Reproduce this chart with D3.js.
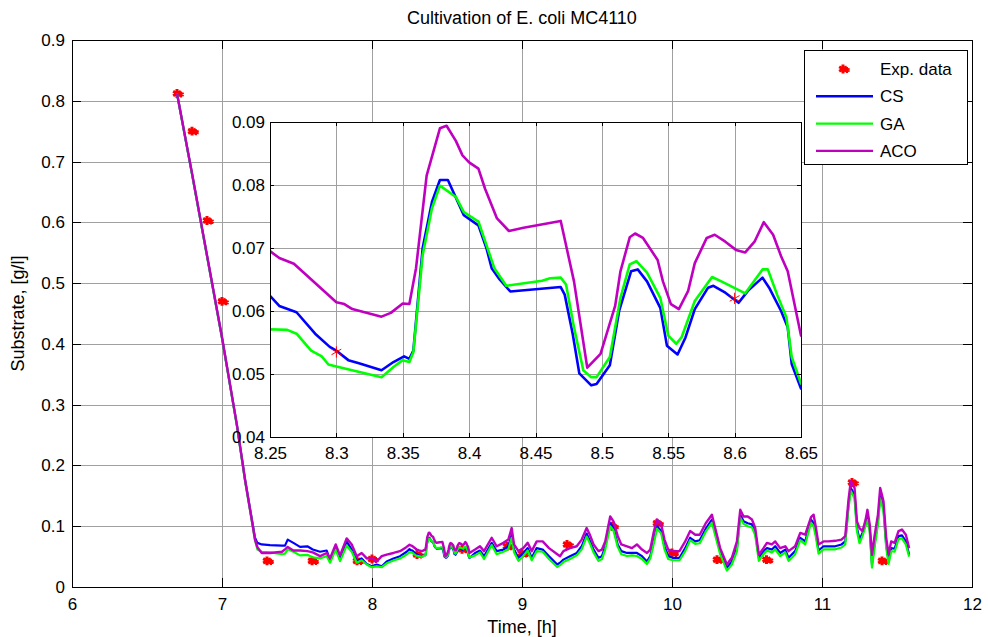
<!DOCTYPE html>
<html lang="en">
<head>
<meta charset="UTF-8">
<title>Cultivation of E. coli MC4110</title>
<script src="https://d3js.org/d3.v7.min.js"></script>
<style>
    body {
        margin: 0;
        background: #fff;
        font-family: Arial, "Liberation Sans", sans-serif;
    }
    .grid line { stroke: #a0a0a0; stroke-width: 1; shape-rendering: crispEdges; }
    .axis path, .axis line { stroke: #000; shape-rendering: crispEdges; }
    .axis text { font-family: Arial, "Liberation Sans", sans-serif; fill: #000; }
    .series { fill: none; stroke-linejoin: round; }
</style>
</head>
<body>
<div id="chart"></div>
<script>
    // tick labels
    const xTicks = [6, 7, 8, 9, 10, 11, 12];
    const yTicks = [0, 0.1, 0.2, 0.3, 0.4, 0.5, 0.6, 0.7, 0.8, 0.9];
    const insetXTicks = [8.25, 8.3, 8.35, 8.4, 8.45, 8.5, 8.55, 8.6, 8.65];
    const insetYTicks = [0.04, 0.05, 0.06, 0.07, 0.08, 0.09];

    // experimental data
    const expT = [6.7, 6.8, 6.9, 7.0, 7.3, 7.6, 7.9, 8.0, 8.3, 8.6, 8.9, 9.0, 9.3, 9.6, 9.9, 10.0, 10.3, 10.63, 11.2, 11.4];
    const expV = [0.812, 0.750, 0.603, 0.470, 0.043, 0.043, 0.043, 0.046, 0.0535, 0.062, 0.067, 0.055, 0.070, 0.100, 0.105, 0.056, 0.045, 0.045, 0.172, 0.043];

    // model CS  [time, substrate]
    const cs = [
        [6.70, .812], [6.80, .680], [6.90, .545], [7.00, .410], [7.10, .265], [7.154, .176], [7.20, .110], [7.22, .081],
        [7.236, .0726], [7.265, .070], [7.32, .069], [7.40, .068], [7.42, .068], [7.438, .078], [7.476, .0726], [7.52, .066],
        [7.569, .067], [7.605, .0616], [7.654, .058], [7.698, .060], [7.72, .045], [7.758, .066], [7.787, .045], [7.831, .075],
        [7.865, .0616], [7.898, .042], [7.931, .047], [7.965, .038], [7.998, .034], [8.031, .037], [8.065, .034], [8.098, .042],
        [8.143, .047], [8.187, .0507], [8.231, .058],
        [8.25, .0624], [8.257, .0608], [8.27, .0598], [8.284, .0564], [8.295, .0543], [8.30, .0537], [8.309, .0522], [8.317, .0517],
        [8.334, .0506], [8.343, .0519], [8.351, .0528], [8.355, .0524], [8.358, .0537], [8.365, .0700], [8.372, .0773], [8.378, .0808],
        [8.384, .0808], [8.396, .0752], [8.407, .0736], [8.413, .0700], [8.417, .0668], [8.423, .0650], [8.431, .0631], [8.469, .0638],
        [8.472, .0626], [8.478, .0564], [8.483, .0501], [8.492, .0482], [8.496, .0484], [8.506, .0514], [8.513, .0600], [8.522, .0663],
        [8.527, .0666], [8.534, .0647], [8.544, .0605], [8.549, .0545], [8.557, .0531], [8.563, .0558], [8.570, .0603], [8.580, .0637],
        [8.584, .0640], [8.593, .0629], [8.603, .0613], [8.610, .0632], [8.621, .0653], [8.626, .0637], [8.635, .0600], [8.640, .0574],
        [8.643, .0516], [8.650, .0477],
        [8.687, .056], [8.72, .060], [8.747, .0507], [8.798, .0726], [8.831, .059], [8.876, .0616], [8.909, .067], [8.931, .086],
        [8.947, .0616], [8.976, .048], [9.009, .056], [9.038, .064], [9.065, .048], [9.098, .064], [9.138, .0616], [9.18, .0507],
        [9.235, .037], [9.254, .040], [9.276, .045], [9.32, .0507], [9.365, .056], [9.398, .067], [9.431, .088], [9.454, .075],
        [9.477, .0616], [9.51, .048], [9.533, .0507], [9.555, .067], [9.588, .105], [9.61, .097], [9.638, .070], [9.662, .059],
        [9.70, .056], [9.733, .056], [9.766, .056], [9.80, .0507], [9.833, .042], [9.855, .0507], [9.877, .075], [9.90, .100],
        [9.928, .092], [9.95, .067], [9.975, .0507], [10.005, .048], [10.05, .048], [10.088, .064], [10.121, .081], [10.155, .075],
        [10.185, .077], [10.225, .096], [10.266, .111], [10.288, .089], [10.321, .059], [10.366, .0315], [10.399, .042], [10.433, .064],
        [10.455, .119], [10.477, .108], [10.505, .105], [10.533, .103], [10.555, .089], [10.579, .048], [10.61, .059], [10.633, .064],
        [10.666, .0616], [10.688, .067], [10.721, .056], [10.755, .0616], [10.777, .048], [10.821, .059], [10.855, .081], [10.888, .075],
        [10.927, .111], [10.944, .105], [10.958, .089], [10.977, .060], [11.01, .067], [11.044, .067], [11.088, .067], [11.13, .070],
        [11.155, .075], [11.177, .136], [11.192, .163], [11.217, .152], [11.233, .097], [11.25, .078], [11.27, .089], [11.29, .105],
        [11.303, .116], [11.318, .097], [11.333, .037], [11.35, .070], [11.373, .108], [11.388, .152], [11.41, .130], [11.428, .070],
        [11.444, .0425], [11.461, .064], [11.484, .063], [11.51, .0836], [11.533, .085], [11.559, .075], [11.581, .053]
    ];

    // model GA
    const ga = [
        [6.70, .812], [6.80, .679], [6.90, .544], [7.00, .409], [7.10, .264], [7.154, .174], [7.20, .107], [7.22, .077],
        [7.236, .0616], [7.265, .058], [7.32, .057], [7.40, .054], [7.42, .055], [7.438, .062], [7.476, .058], [7.52, .052],
        [7.569, .053], [7.605, .049], [7.654, .047], [7.698, .051], [7.72, .040], [7.758, .0616], [7.787, .0425], [7.831, .068],
        [7.865, .058], [7.898, .040], [7.931, .044], [7.965, .037], [7.998, .0326], [8.031, .034], [8.065, .0326], [8.098, .039],
        [8.143, .0436], [8.187, .047], [8.231, .0535],
        [8.25, .0571], [8.263, .0570], [8.27, .0564], [8.281, .0537], [8.289, .0528], [8.294, .0515], [8.30, .0512], [8.334, .0495],
        [8.343, .0511], [8.35, .0522], [8.355, .0519], [8.358, .0535], [8.365, .0689], [8.372, .0763], [8.378, .0799], [8.39, .0781],
        [8.396, .0757], [8.407, .0742], [8.413, .0705], [8.419, .0668], [8.428, .0640], [8.455, .0648], [8.461, .0652], [8.469, .0653],
        [8.473, .0642], [8.479, .0574], [8.486, .0506], [8.492, .0495], [8.496, .0495], [8.506, .0527], [8.514, .0621], [8.521, .0674],
        [8.526, .0679], [8.534, .0661], [8.544, .0621], [8.55, .0561], [8.556, .0548], [8.56, .0558], [8.57, .0616], [8.583, .0654],
        [8.59, .0647], [8.608, .0628], [8.621, .0666], [8.625, .0666], [8.632, .0626], [8.639, .0590], [8.643, .0527], [8.65, .0485],
        [8.687, .052], [8.72, .057], [8.747, .046], [8.798, .069], [8.831, .054], [8.876, .058], [8.909, .062], [8.931, .081],
        [8.947, .057], [8.976, .043], [9.009, .051], [9.038, .060], [9.065, .044], [9.098, .059], [9.138, .058], [9.18, .046],
        [9.235, .033], [9.254, .036], [9.276, .041], [9.32, .046], [9.365, .052], [9.398, .062], [9.431, .083], [9.454, .071],
        [9.477, .057], [9.51, .043], [9.533, .046], [9.555, .062], [9.588, .100], [9.61, .093], [9.638, .066], [9.662, .054],
        [9.70, .051], [9.733, .052], [9.766, .051], [9.80, .046], [9.833, .038], [9.855, .047], [9.877, .070], [9.90, .096],
        [9.928, .088], [9.95, .062], [9.975, .046], [10.005, .044], [10.05, .044], [10.088, .059], [10.121, .077], [10.155, .071],
        [10.185, .072], [10.225, .091], [10.266, .106], [10.288, .085], [10.321, .054], [10.366, .027], [10.399, .037], [10.433, .059],
        [10.455, .114], [10.477, .104], [10.505, .100], [10.533, .098], [10.555, .085], [10.579, .043], [10.61, .054], [10.633, .060],
        [10.666, .057], [10.688, .062], [10.721, .051], [10.755, .057], [10.777, .043], [10.821, .054], [10.855, .077], [10.888, .070],
        [10.927, .106], [10.944, .100], [10.958, .084], [10.977, .055], [11.01, .062], [11.044, .062], [11.088, .062], [11.13, .065],
        [11.155, .070], [11.177, .130], [11.192, .158], [11.217, .146], [11.233, .092], [11.25, .072], [11.27, .084], [11.29, .100],
        [11.303, .110], [11.318, .092], [11.333, .032], [11.35, .065], [11.373, .103], [11.388, .146], [11.41, .125], [11.428, .065],
        [11.444, .038], [11.461, .059], [11.484, .058], [11.51, .079], [11.533, .080], [11.559, .070], [11.581, .050]
    ];

    // model ACO
    const aco = [
        [6.70, .812], [6.80, .681], [6.90, .546], [7.00, .411], [7.10, .266], [7.154, .176], [7.20, .108], [7.22, .078],
        [7.236, .0655], [7.265, .056], [7.32, .056], [7.40, .058], [7.42, .062], [7.438, .066], [7.476, .060], [7.52, .060],
        [7.569, .059], [7.605, .057], [7.654, .0507], [7.698, .056], [7.72, .047], [7.758, .070], [7.787, .052], [7.831, .080],
        [7.865, .070], [7.898, .0507], [7.931, .056], [7.965, .047], [7.998, .048], [8.031, .042], [8.065, .0507], [8.098, .0534],
        [8.143, .056], [8.187, .059], [8.231, .066],
        [8.25, .0695], [8.257, .0684], [8.268, .0675], [8.30, .0614], [8.306, .0611], [8.312, .0603], [8.334, .0591], [8.341, .0597],
        [8.35, .0612], [8.355, .0611], [8.36, .0668], [8.368, .0815], [8.378, .0890], [8.383, .0894], [8.39, .0870], [8.395, .0847],
        [8.40, .0836], [8.407, .0826], [8.412, .0794], [8.421, .0747], [8.43, .0727], [8.441, .0732], [8.469, .0743], [8.479, .0647],
        [8.489, .0510], [8.499, .0532], [8.51, .0608], [8.514, .0663], [8.521, .0717], [8.525, .0723], [8.531, .0716], [8.542, .0681],
        [8.546, .0647], [8.552, .0611], [8.558, .0603], [8.565, .0632], [8.57, .0676], [8.579, .0716], [8.585, .0721], [8.593, .0710],
        [8.601, .0697], [8.608, .0693], [8.615, .0710], [8.622, .0741], [8.629, .0721], [8.635, .0687], [8.64, .0663], [8.65, .0561],
        [8.687, .0616], [8.72, .067], [8.747, .059], [8.798, .081], [8.831, .067], [8.876, .0726], [8.909, .078], [8.931, .097],
        [8.947, .070], [8.976, .059], [9.009, .064], [9.038, .0726], [9.065, .059], [9.098, .075], [9.138, .075], [9.18, .064],
        [9.235, .054], [9.254, .0507], [9.276, .059], [9.32, .064], [9.365, .067], [9.398, .078], [9.431, .097], [9.454, .085],
        [9.477, .070], [9.51, .059], [9.533, .0616], [9.555, .075], [9.588, .116], [9.61, .108], [9.638, .084], [9.662, .070],
        [9.70, .067], [9.733, .064], [9.766, .070], [9.80, .0616], [9.833, .056], [9.855, .0616], [9.877, .089], [9.90, .111],
        [9.928, .1027], [9.95, .078], [9.975, .0616], [10.005, .059], [10.05, .059], [10.088, .075], [10.121, .092], [10.155, .086],
        [10.185, .086], [10.225, .105], [10.266, .119], [10.288, .097], [10.321, .064], [10.366, .037], [10.399, .048], [10.433, .075],
        [10.455, .127], [10.477, .116], [10.505, .116], [10.533, .111], [10.555, .097], [10.579, .053], [10.61, .064], [10.633, .0726],
        [10.666, .070], [10.688, .075], [10.721, .064], [10.755, .067], [10.777, .059], [10.821, .067], [10.855, .089], [10.888, .086],
        [10.927, .115], [10.944, .119], [10.958, .100], [10.977, .070], [11.01, .075], [11.044, .075], [11.088, .076], [11.13, .078],
        [11.155, .0836], [11.177, .144], [11.192, .174], [11.217, .163], [11.233, .108], [11.25, .097], [11.27, .092], [11.29, .110],
        [11.303, .127], [11.318, .103], [11.333, .053], [11.35, .0836], [11.373, .119], [11.388, .163], [11.41, .141], [11.428, .081],
        [11.444, .053], [11.461, .075], [11.484, .0726], [11.51, .092], [11.533, .0945], [11.559, .086], [11.581, .064]
    ];

    const seriesNames = ["CS", "GA", "ACO"];
    const seriesColors = ["#0000ff", "#00ff00", "#bf00bf"];
    const seriesData = [cs, ga, aco];

    const W = 988, H = 637;
    const svg = d3.select("#chart").append("svg")
        .attr("width", W)
        .attr("height", H);

    // main axes area
    const main = { left: 72, right: 972, top: 40, bottom: 587 };
    const x = d3.scaleLinear().domain([6, 12]).range([main.left, main.right]);
    const y = d3.scaleLinear().domain([0, 0.9]).range([main.bottom, main.top]);

    // inset axes area
    const ins = { left: 270, right: 801, top: 122, bottom: 437 };
    const xi = d3.scaleLinear().domain([8.25, 8.65]).range([ins.left, ins.right]);
    const yi = d3.scaleLinear().domain([0.04, 0.09]).range([ins.bottom, ins.top]);

    const expPts = expT.map((t, i) => [t, expV[i]]);
    const starType = d3.symbolAsterisk || d3.symbolCross;

    function drawGrid(g, box, sx, sy, xt, yt) {
        g.append("g").attr("class", "grid")
            .attr("transform", `translate(0,${box.bottom})`)
            .call(d3.axisBottom(sx).tickValues(xt).tickSize(-(box.bottom - box.top)).tickFormat(""))
            .call(s => s.select(".domain").remove());
        g.append("g").attr("class", "grid")
            .attr("transform", `translate(${box.left},0)`)
            .call(d3.axisLeft(sy).tickValues(yt).tickSize(-(box.right - box.left)).tickFormat(""))
            .call(s => s.select(".domain").remove());
    }

    function drawFrame(g, box, sx, sy, xt, yt, xfmt, yfmt, tickLen, fontSize, xPad, yPad, lw) {
        g.append("g").attr("class", "axis")
            .attr("transform", `translate(0,${box.bottom})`)
            .call(d3.axisBottom(sx).tickValues(xt).tickSizeInner(-tickLen).tickSizeOuter(0).tickPadding(xPad).tickFormat(xfmt));
        g.append("g").attr("class", "axis")
            .attr("transform", `translate(${box.left},0)`)
            .call(d3.axisLeft(sy).tickValues(yt).tickSizeInner(-tickLen).tickSizeOuter(0).tickPadding(yPad).tickFormat(yfmt));
        g.append("g").attr("class", "axis")
            .attr("transform", `translate(0,${box.top})`)
            .call(d3.axisTop(sx).tickValues(xt).tickSizeInner(-tickLen).tickSizeOuter(0).tickFormat(""));
        g.append("g").attr("class", "axis")
            .attr("transform", `translate(${box.right},0)`)
            .call(d3.axisRight(sy).tickValues(yt).tickSizeInner(-tickLen).tickSizeOuter(0).tickFormat(""));
        g.selectAll(".axis text").attr("font-size", fontSize);
        g.selectAll(".axis .domain").attr("stroke-width", lw);
    }

    // ---------- main plot ----------
    const mainG = svg.append("g");
    drawGrid(mainG, main, x, y, xTicks, yTicks);

    svg.append("clipPath").attr("id", "clipMain")
        .append("rect")
        .attr("x", main.left).attr("y", main.top)
        .attr("width", main.right - main.left).attr("height", main.bottom - main.top);

    const mainLine = d3.line().x(d => x(d[0])).y(d => y(d[1]));
    const mainData = mainG.append("g").attr("clip-path", "url(#clipMain)");

    // experimental points (heavy markers)
    const expG = mainData.append("g");
    expG.selectAll(".exp")
        .data(expPts)
        .enter().append("path")
        .attr("transform", d => `translate(${x(d[0])},${y(d[1])})`)
        .attr("d", d3.symbol().type(starType).size(55))
        .attr("stroke", "#ff0000").attr("stroke-width", 3).attr("fill", "#ff0000");
    expG.selectAll(".exp2")
        .data(expPts)
        .enter().append("path")
        .attr("transform", d => `translate(${x(d[0]) + 4},${y(d[1]) + 1})`)
        .attr("d", d3.symbol().type(starType).size(25))
        .attr("stroke", "#ff0000").attr("stroke-width", 2).attr("fill", "none");

    seriesData.forEach((s, i) => {
        mainData.append("path")
            .datum(s)
            .attr("class", "series")
            .attr("d", mainLine)
            .attr("stroke", seriesColors[i])
            .attr("stroke-width", i === 2 ? 2.4 : 2.2);
    });

    drawFrame(mainG, main, x, y, xTicks, yTicks,
        d => String(d), d => (d === 0 ? "0" : d3.format(".1f")(d)), 9, 17, 11, 7, 1.5);

    // ---------- inset ----------
    const insG = svg.append("g");
    insG.append("rect")
        .attr("x", ins.left).attr("y", ins.top)
        .attr("width", ins.right - ins.left).attr("height", ins.bottom - ins.top)
        .attr("fill", "#fff");
    drawGrid(insG, ins, xi, yi, insetXTicks, insetYTicks);

    svg.append("clipPath").attr("id", "clipInset")
        .append("rect")
        .attr("x", ins.left).attr("y", ins.top)
        .attr("width", ins.right - ins.left).attr("height", ins.bottom - ins.top);

    const insLine = d3.line().x(d => xi(d[0])).y(d => yi(d[1]));
    const insData = insG.append("g").attr("clip-path", "url(#clipInset)");

    seriesData.forEach((s, i) => {
        insData.append("path")
            .datum(s)
            .attr("class", "series")
            .attr("d", insLine)
            .attr("stroke", seriesColors[i])
            .attr("stroke-width", 2.6);
    });

    insData.selectAll(".exp")
        .data(expPts)
        .enter().append("path")
        .attr("transform", d => `translate(${xi(d[0])},${yi(d[1])})`)
        .attr("d", d3.symbol().type(starType).size(90))
        .attr("stroke", "#ff0000").attr("stroke-width", 1).attr("fill", "none");

    drawFrame(insG, ins, xi, yi, insetXTicks, insetYTicks,
        d => String(+d.toFixed(2)), d => d3.format(".2f")(d), 4, 17, 10, 5, 1.5);

    // ---------- legend ----------
    const leg = svg.append("g");
    leg.append("rect")
        .attr("x", 804).attr("y", 50)
        .attr("width", 163).attr("height", 114)
        .attr("fill", "#fff").attr("stroke", "#000").attr("stroke-width", 1)
        .attr("shape-rendering", "crispEdges");

    const legRows = ["Exp. data"].concat(seriesNames);
    legRows.forEach((name, i) => {
        const ly = 69 + i * 27.3;
        if (i === 0) {
            leg.append("path")
                .attr("transform", `translate(843,${ly})`)
                .attr("d", d3.symbol().type(starType).size(55))
                .attr("stroke", "#ff0000").attr("stroke-width", 3).attr("fill", "#ff0000");
            leg.append("path")
                .attr("transform", `translate(847,${ly + 1})`)
                .attr("d", d3.symbol().type(starType).size(25))
                .attr("stroke", "#ff0000").attr("stroke-width", 2).attr("fill", "none");
        } else {
            leg.append("line")
                .attr("x1", 816).attr("x2", 873)
                .attr("y1", ly).attr("y2", ly)
                .attr("stroke", seriesColors[i - 1])
                .attr("stroke-width", 2.4);
        }
        leg.append("text")
            .attr("x", 880).attr("y", ly)
            .attr("dy", "0.35em")
            .attr("font-size", 17)
            .text(name);
    });

    // ---------- titles ----------
    svg.append("text")
        .attr("x", (main.left + main.right) / 2).attr("y", 24)
        .attr("text-anchor", "middle")
        .attr("font-size", 18)
        .text("Cultivation of E. coli MC4110");

    svg.append("text")
        .attr("x", (main.left + main.right) / 2).attr("y", 633)
        .attr("text-anchor", "middle")
        .attr("font-size", 18)
        .text("Time, [h]");

    svg.append("text")
        .attr("transform", `translate(24,${(main.top + main.bottom) / 2}) rotate(-90)`)
        .attr("text-anchor", "middle")
        .attr("font-size", 18)
        .text("Substrate, [g/l]");
</script>
</body>
</html>
